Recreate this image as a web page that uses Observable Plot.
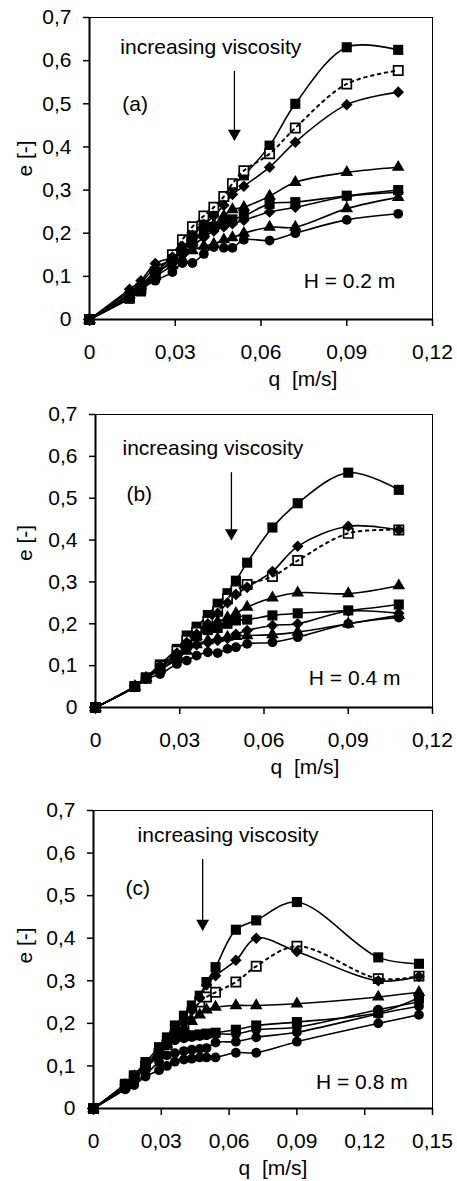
<!DOCTYPE html>
<html>
<head>
<meta charset="utf-8">
<script src="https://cdn.jsdelivr.net/npm/d3@7"></script>
<script src="https://cdn.jsdelivr.net/npm/@observablehq/plot@0.6"></script>
<style>
  html, body { margin: 0; padding: 0; background: #fff; overflow: hidden; }
  #chart svg { display: block; }
</style>
</head>
<body>
<div id="chart"></div>
<script>
// ---------------- DATA ----------------
// Panel (a): H = 0.2 m
const qA = [0, 0.014, 0.018, 0.023, 0.029, 0.0325, 0.036, 0.040, 0.0435, 0.047, 0.050, 0.054, 0.063, 0.072, 0.090, 0.108];
const a1 = [0, 0.050, 0.068, 0.105, 0.148, 0.175, 0.200, 0.225, 0.250, 0.285, 0.310, 0.334, 0.403, 0.500, 0.631, 0.625];
const a2 = [0, 0.052, 0.072, 0.110, 0.150, 0.185, 0.215, 0.240, 0.260, 0.285, 0.315, 0.345, 0.384, 0.444, 0.546, 0.577];
const a3 = [0, 0.070, 0.090, 0.130, 0.145, 0.170, 0.195, 0.220, 0.240, 0.265, 0.290, 0.309, 0.353, 0.411, 0.498, 0.527];
const a4 = [0, 0.065, 0.085, 0.120, 0.140, 0.165, 0.180, 0.200, 0.220, 0.240, 0.255, 0.260, 0.286, 0.318, 0.341, 0.353];
const a5 = [0, 0.048, 0.065, 0.100, 0.140, 0.165, 0.185, 0.205, 0.215, 0.225, 0.232, 0.240, 0.268, 0.272, 0.287, 0.300];
const a6 = [0, 0.060, 0.080, 0.110, 0.130, 0.150, 0.170, 0.190, 0.205, 0.215, 0.222, 0.230, 0.249, 0.260, 0.285, 0.295];
const a7 = [0, 0.058, 0.078, 0.100, 0.125, 0.140, 0.160, 0.170, 0.175, 0.185, 0.190, 0.200, 0.214, 0.214, 0.257, 0.283];
const a8 = [0, 0.055, 0.072, 0.090, 0.110, 0.131, 0.131, 0.152, 0.168, 0.166, 0.166, 0.185, 0.183, 0.200, 0.231, 0.245];

// Panel (b): H = 0.4 m
const qB = [0, 0.014, 0.018, 0.023, 0.029, 0.0325, 0.036, 0.040, 0.0435, 0.047, 0.050, 0.054, 0.063, 0.072, 0.090, 0.108];
const b1 = [0, 0.051, 0.072, 0.103, 0.140, 0.172, 0.193, 0.221, 0.248, 0.273, 0.303, 0.346, 0.430, 0.488, 0.561, 0.520];
const b2 = [0, 0.050, 0.070, 0.100, 0.135, 0.160, 0.180, 0.205, 0.230, 0.260, 0.280, 0.294, 0.313, 0.351, 0.416, 0.424];
const b3 = [0, 0.050, 0.070, 0.100, 0.130, 0.155, 0.175, 0.200, 0.225, 0.250, 0.270, 0.287, 0.325, 0.385, 0.433, 0.424];
const b4 = [0, 0.050, 0.070, 0.095, 0.125, 0.150, 0.170, 0.190, 0.205, 0.215, 0.225, 0.240, 0.262, 0.274, 0.272, 0.291];
const b5 = [0, 0.050, 0.070, 0.095, 0.125, 0.150, 0.170, 0.185, 0.190, 0.200, 0.208, 0.210, 0.220, 0.225, 0.232, 0.246];
const b6 = [0, 0.050, 0.070, 0.090, 0.120, 0.140, 0.150, 0.155, 0.160, 0.165, 0.175, 0.184, 0.196, 0.200, 0.230, 0.225];
const b7 = [0, 0.050, 0.070, 0.090, 0.115, 0.135, 0.150, 0.160, 0.165, 0.168, 0.170, 0.172, 0.174, 0.180, 0.200, 0.220];
const b8 = [0, 0.048, 0.068, 0.080, 0.104, 0.112, 0.124, 0.132, 0.130, 0.140, 0.144, 0.152, 0.156, 0.168, 0.200, 0.215];

// Panel (c): H = 0.8 m
const qC = [0, 0.014, 0.018, 0.023, 0.029, 0.0325, 0.036, 0.040, 0.0435, 0.047, 0.050, 0.054, 0.063, 0.072, 0.090, 0.126, 0.144];
const c1 = [0, 0.058, 0.078, 0.109, 0.144, 0.167, 0.195, 0.218, 0.242, 0.265, 0.297, 0.332, 0.420, 0.442, 0.485, 0.355, 0.340];
const c2 = [0, 0.055, 0.075, 0.100, 0.130, 0.150, 0.170, 0.190, 0.225, 0.250, 0.262, 0.273, 0.297, 0.334, 0.381, 0.305, 0.311];
const c3 = [0, 0.055, 0.075, 0.100, 0.135, 0.160, 0.180, 0.200, 0.230, 0.260, 0.290, 0.312, 0.348, 0.400, 0.369, 0.300, 0.310];
const c4 = [0, 0.055, 0.075, 0.100, 0.125, 0.150, 0.170, 0.190, 0.205, 0.220, 0.232, 0.238, 0.242, 0.242, 0.246, 0.262, 0.273];
const c5 = [0, 0.055, 0.075, 0.100, 0.140, 0.160, 0.168, 0.170, 0.172, 0.174, 0.176, 0.178, 0.185, 0.195, 0.203, 0.225, 0.260];
const c6 = [0, 0.050, 0.070, 0.095, 0.125, 0.150, 0.160, 0.165, 0.168, 0.170, 0.172, 0.175, 0.175, 0.185, 0.191, 0.232, 0.250];
const c7 = [0, 0.045, 0.060, 0.080, 0.110, 0.125, 0.130, 0.135, 0.138, 0.140, 0.142, 0.155, 0.157, 0.167, 0.179, 0.222, 0.240];
const c8 = [0, 0.045, 0.055, 0.075, 0.090, 0.100, 0.110, 0.115, 0.117, 0.120, 0.120, 0.120, 0.131, 0.131, 0.157, 0.200, 0.220];

// Tick values and labels
const yTicks = [0, 0.1, 0.2, 0.3, 0.4, 0.5, 0.6, 0.7];
const xTicksAB = [0, 0.03, 0.06, 0.09, 0.12];
const xTicksC = [0, 0.03, 0.06, 0.09, 0.12, 0.15];
const xLabel = "q  [m/s]";
const yLabel = "e [-]";
const arrowText = "increasing viscosity";
const panelTags = ["(a)", "(b)", "(c)"];
const hTexts = ["H = 0.2 m", "H = 0.4 m", "H = 0.8 m"];

// Annotation anchor points (data coordinates)
const annA = {tag: [0.0115, 0.50], visc: [0.0108, 0.63], h: [0.107, 0.088], arrow: [0.0507, 0.575, 0.415]};
const annB = {tag: [0.0110, 0.509], visc: [0.0096, 0.62], h: [0.1086, 0.069], arrow: [0.0484, 0.561, 0.400]};
const annC = {tag: [0.0142, 0.517], visc: [0.0195, 0.641], h: [0.139, 0.061], arrow: [0.0483, 0.585, 0.418]};

// ---------------- DRAWING ----------------
const FONT = "'Liberation Sans', Arial, Helvetica, sans-serif";
const fmt = k => d => d === 0 ? "0" : d.toFixed(k).replace(".", ",");

const SYM = {
  sq:   {symbol: "square", r: 5.7, fill: "black", stroke: "none"},
  osq:  {symbol: "square", r: 5.2, fill: "white", stroke: "black", strokeWidth: 1.7},
  dia:  {symbol: "square", r: 4.6, rotate: 45, fill: "black", stroke: "none"},
  tri:  {symbol: "triangle", r: 4.7, fill: "black", stroke: "none"},
  circ: {symbol: "circle", r: 4.9, fill: "black", stroke: "none"}
};

function panel({q, series, xMax, xTicks, ann, tag, hText, margin, height, xLabelDx, yLabelDx, yLabelDy}) {
  const marks = [];
  const rowsOf = s => q.map((qq, i) => ({q: qq, e: s.v[i]}));
  for (const s of series) {
    if (!s.dashed) marks.push(Plot.line(rowsOf(s), {x: "q", y: "e", curve: "catmull-rom", stroke: "black", strokeWidth: 1.6}));
  }
  for (const s of series) {
    marks.push(Plot.dot(rowsOf(s), {x: "q", y: "e", ...SYM[s.sym]}));
    if (s.dashed) marks.push(Plot.line(rowsOf(s), {x: "q", y: "e", curve: "catmull-rom", stroke: "black", strokeWidth: 2, strokeDasharray: "2.5,4.5"}));
  }
  marks.push(Plot.frame({stroke: "black", strokeWidth: 1}));
  marks.push(Plot.ruleX([0], {stroke: "black", strokeWidth: 2}));
  marks.push(Plot.ruleY([0], {stroke: "black", strokeWidth: 2}));
  marks.push(Plot.axisX({ticks: xTicks, tickFormat: fmt(2), tickSize: 7, tickPadding: 18, fontSize: 21, stroke: "black", strokeWidth: 1.5, fill: "black", label: null}));
  marks.push(Plot.axisY({ticks: yTicks, tickFormat: fmt(1), tickSize: 6, tickPadding: 12, fontSize: 21, stroke: "black", strokeWidth: 1.5, fill: "black", label: null}));
  marks.push(Plot.text([{q: ann.visc[0], e: ann.visc[1], t: arrowText}], {x: "q", y: "e", text: "t", textAnchor: "start", lineAnchor: "middle", fontSize: 21, fill: "black"}));
  marks.push(Plot.text([{q: ann.tag[0], e: ann.tag[1], t: tag}], {x: "q", y: "e", text: "t", textAnchor: "start", lineAnchor: "middle", fontSize: 21, fill: "black"}));
  marks.push(Plot.text([{q: ann.h[0], e: ann.h[1], t: hText}], {x: "q", y: "e", text: "t", textAnchor: "end", lineAnchor: "middle", fontSize: 21, fill: "black"}));
  const arr = [{q: ann.arrow[0], e1: ann.arrow[1], e2: ann.arrow[2]}];
  marks.push(Plot.ruleX(arr, {x: "q", y1: "e1", y2: "e2", stroke: "black", strokeWidth: 1.3}));
  marks.push(Plot.dot(arr, {x: "q", y: "e2", symbol: "triangle", rotate: 180, r: 4.8, fill: "black", stroke: "none", dy: -7}));
  marks.push(Plot.text([xLabel], {frameAnchor: "bottom", text: d => d, dy: 60, dx: xLabelDx, lineAnchor: "middle", fontSize: 21, fill: "black"}));
  marks.push(Plot.text([yLabel], {frameAnchor: "left", text: d => d, dx: yLabelDx, dy: yLabelDy, rotate: -90, lineAnchor: "middle", fontSize: 21, fill: "black"}));

  return Plot.plot({
    width: 457,
    height,
    marginTop: margin[0], marginRight: margin[1], marginBottom: margin[2], marginLeft: margin[3],
    style: {fontFamily: FONT, fontSize: "21px", background: "white", color: "black", overflow: "visible"},
    x: {domain: [0, xMax]},
    y: {domain: [0, 0.7]},
    marks
  });
}

const mk = (vals) => [
  {v: vals[0], sym: "sq"},
  {v: vals[1], sym: "osq", dashed: true},
  {v: vals[2], sym: "dia"},
  {v: vals[3], sym: "tri"},
  {v: vals[4], sym: "sq"},
  {v: vals[5], sym: "dia"},
  {v: vals[6], sym: "tri"},
  {v: vals[7], sym: "circ"}
];
const seriesC = [
  {v: c1, sym: "sq"},
  {v: c2, sym: "osq", dashed: true},
  {v: c3, sym: "dia"},
  {v: c4, sym: "tri"},
  {v: c5, sym: "sq"},
  {v: c6, sym: "circ"},
  {v: c7, sym: "circ"},
  {v: c8, sym: "circ"}
];

const root = document.getElementById("chart");
root.append(panel({q: qA, series: mk([a1, a2, a3, a4, a5, a6, a7, a8]), xMax: 0.12, xTicks: xTicksAB, ann: annA, tag: panelTags[0], hText: hTexts[0],
  margin: [17, 25, 71, 89], height: 390, xLabelDx: 42, yLabelDx: -64, yLabelDy: 8}));
root.append(panel({q: qB, series: mk([b1, b2, b3, b4, b5, b6, b7, b8]), xMax: 0.12, xTicks: xTicksAB, ann: annB, tag: panelTags[1], hText: hTexts[1],
  margin: [24, 25, 73, 95], height: 390, xLabelDx: 41, yLabelDx: -70, yLabelDy: 0}));
root.append(panel({q: qC, series: seriesC, xMax: 0.15, xTicks: xTicksC, ann: annC, tag: panelTags[2], hText: hTexts[2],
  margin: [30, 25, 73, 93], height: 401, xLabelDx: 10, yLabelDx: -68, yLabelDy: 4}));
</script>
</body>
</html>
